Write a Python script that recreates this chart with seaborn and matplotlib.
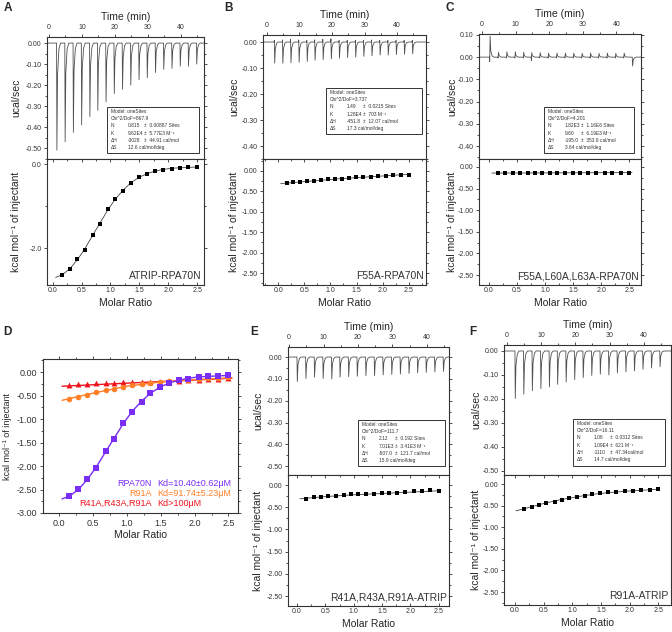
import numpy as np
import seaborn as sns
import matplotlib.pyplot as plt
from matplotlib.patches import Rectangle
from matplotlib.ticker import AutoMinorLocator, FormatStrFormatter, MultipleLocator

sns.set_style("ticks")
plt.rcParams['font.family'] = ['Liberation Sans', 'DejaVu Sans']
plt.rcParams['axes.unicode_minus'] = False

W, H = 672, 632

# injection times (min), shared by all titrations
inj_time = [2.3, 4.8, 7.3, 9.8, 12.3, 14.7, 17.2, 19.7, 22.2, 24.7, 27.2, 29.7,
            32.2, 34.7, 37.2, 39.7, 42.2, 44.7]
# molar ratio of each injection
ratio = [0.16, 0.29, 0.42, 0.55, 0.69, 0.82, 0.95, 1.08, 1.22, 1.35, 1.49, 1.63,
         1.77, 1.91, 2.06, 2.20, 2.35, 2.50]

# raw peaks (ucal/sec)
a_peak = [-0.51, -0.47, -0.425, -0.39, -0.35, -0.32, -0.28, -0.24, -0.22, -0.20,
          -0.175, -0.165, -0.14, -0.125, -0.12, -0.11, -0.11, -0.10]
b_peak = [-0.081, -0.082, -0.080, -0.078, -0.075, -0.070, -0.068, -0.065, -0.062,
          -0.060, -0.058, -0.055, -0.053, -0.050, -0.050, -0.048, -0.047, -0.045]
b_pre = [0.006, 0.008, 0.010, 0.008, 0.006, 0.008, 0.010, 0.012, 0.006, 0.006,
         0.006, 0.006, 0.008, 0.006, 0.006, 0.006, 0.006, 0.006]
c_peak = [0.094, 0.022, 0.024, 0.024, 0.022, 0.020, 0.020, 0.018, 0.018, 0.018,
          0.018, 0.017, 0.018, 0.017, 0.018, 0.017, 0.018, -0.040]
c_pre = [-0.020, -0.004, -0.004, -0.004, -0.004, -0.015, -0.004, -0.004, -0.004,
         -0.004, -0.004, -0.004, -0.004, -0.004, -0.004, -0.004, -0.004, 0.0]
e_peak = [-0.112, -0.098, -0.092, -0.098, -0.100, -0.092, -0.090, -0.088, -0.085,
          -0.085, -0.082, -0.080, -0.078, -0.075, -0.072, -0.070, -0.068, -0.066]
f_peak = [-0.198, -0.180, -0.166, -0.157, -0.150, -0.139, -0.129, -0.119, -0.111,
          -0.102, -0.097, -0.100, -0.091, -0.087, -0.083, -0.076, -0.071, -0.066]

# integrated heats (kcal/mol of injectant)
a_heat = [-2.64, -2.49, -2.27, -2.04, -1.68, -1.42, -1.08, -0.84, -0.63, -0.45,
          -0.31, -0.24, -0.17, -0.14, -0.11, -0.09, -0.08, -0.07]
b_heat = [-0.30, -0.28, -0.27, -0.25, -0.24, -0.22, -0.21, -0.20, -0.19, -0.18,
          -0.16, -0.15, -0.14, -0.13, -0.12, -0.11, -0.10, -0.09]
c_heat = [-0.14, -0.14, -0.14, -0.14, -0.14, -0.14, -0.14, -0.14, -0.14, -0.13,
          -0.13, -0.13, -0.13, -0.13, -0.13, -0.13, -0.13, -0.13]
e_heat = [-0.31, -0.27, -0.26, -0.24, -0.24, -0.23, -0.21, -0.20, -0.20, -0.20,
          -0.19, -0.18, -0.17, -0.15, -0.14, -0.13, -0.12, -0.13]
f_heat = [-0.57, -0.52, -0.49, -0.44, -0.41, -0.36, -0.33, -0.30, -0.27, -0.24,
          -0.21, -0.19, -0.18, -0.17, -0.15, -0.14, -0.13, -0.12]
d_r91a = [-0.57, -0.52, -0.48, -0.43, -0.39, -0.35, -0.32, -0.28, -0.25, -0.23,
          -0.21, -0.18, -0.16, -0.16, -0.14, -0.13, -0.12, -0.11]
d_triple = [-0.28, -0.26, -0.25, -0.24, -0.23, -0.23, -0.22, -0.21, -0.21, -0.20,
            -0.20, -0.19, -0.18, -0.17, -0.16, -0.15, -0.14, -0.13]

# fitted curves
a_fit_x = [0.05, 0.16, 0.29, 0.42, 0.55, 0.69, 0.82, 0.95, 1.08, 1.22, 1.35, 1.49,
           1.63, 1.77, 1.91, 2.06, 2.20, 2.35, 2.50]
a_fit_y = [-2.70, -2.64, -2.50, -2.29, -2.03, -1.70, -1.40, -1.10, -0.84, -0.62,
           -0.45, -0.32, -0.23, -0.17, -0.13, -0.10, -0.09, -0.08, -0.07]
b_fit_x = [0.05, 1.2, 2.5]
b_fit_y = [-0.31, -0.19, -0.085]
c_fit_x = [0.05, 2.55]
c_fit_y = [-0.14, -0.13]
e_fit_x = [0.05, 0.5, 1.0, 1.5, 2.0, 2.5]
e_fit_y = [-0.31, -0.26, -0.22, -0.19, -0.16, -0.13]
f_fit_x = [0.02, 0.16, 0.5, 0.8, 1.1, 1.4, 1.7, 2.0, 2.5]
f_fit_y = [-0.62, -0.57, -0.45, -0.36, -0.29, -0.23, -0.19, -0.16, -0.12]
r91a_fit_x = [0.05, 0.5, 1.0, 1.5, 2.0, 2.55]
r91a_fit_y = [-0.60, -0.45, -0.30, -0.21, -0.16, -0.12]
triple_fit_x = [0.05, 2.55]
triple_fit_y = [-0.30, -0.13]

a_box = [("Model: oneSites", "", ""), ("Chi^2/DoF=867.9", "", ""),
         ("N", "0.815", "±  0.00887 Sites"), ("K", "9.62E4", "±  5.77E3 M⁻¹"),
         ("ΔH", "-3028", "±  44.91 cal/mol"), ("ΔS", "12.6 cal/mol/deg", "")]
b_box = [("Model: oneSites", "", ""), ("Chi^2/DoF=3.737", "", ""),
         ("N", "1.49", "±  0.0215 Sites"), ("K", "1.28E4", "±  703 M⁻¹"),
         ("ΔH", "-451.8", "±  12.07 cal/mol"), ("ΔS", "17.3 cal/mol/deg", "")]
c_box = [("Model: oneSites", "", ""), ("Chi^2/DoF=4.201", "", ""),
         ("N", "1.82E3", "±  1.16E6 Sites"), ("K", "9.60", "±  6.19E3 M⁻¹"),
         ("ΔH", "-195.0", "±  353.9 cal/mol"), ("ΔS", "3.64 cal/mol/deg", "")]
e_box = [("Model: oneSites", "", ""), ("Chi^2/DoF=111.7", "", ""),
         ("N", "2.12", "±  0.192 Sites"), ("K", "7.01E3", "±  3.41E3 M⁻¹"),
         ("ΔH", "-507.0", "±  121.7 cal/mol"), ("ΔS", "15.9 cal/mol/deg", "")]
f_box = [("Model: oneSites", "", ""), ("Chi^2/DoF=16.11", "", ""),
         ("N", "1.08", "±  0.0312 Sites"), ("K", "1.09E4", "±  621 M⁻¹"),
         ("ΔH", "-1110", "±  47.34cal/mol"), ("ΔS", "14.7 cal/mol/deg", "")]

KCAL = 'kcal mol⁻¹ of injectant'

fig = plt.figure(figsize=(W / 100, H / 100), dpi=100)
INK = '#333333'


def px_axes(x0, y0, x1, y1):
    return fig.add_axes([x0 / W, 1 - y1 / H, (x1 - x0) / W, (y1 - y0) / H])


def style(ax, size=5):
    for sp in ax.spines.values():
        sp.set_color(INK)
        sp.set_linewidth(0.8)
    ax.tick_params(which='both', labelsize=size, colors=INK, width=0.6, pad=1.5)
    ax.tick_params(which='major', length=2.5)
    ax.tick_params(which='minor', length=1.5)


def raw_trace(peaks, pre=None):
    xs, ys = [-2.0], [0.0]
    for i, (t, p) in enumerate(zip(inj_time, peaks)):
        if pre is not None:
            xs += [t - 0.08, t - 0.02]
            ys += [0.0, pre[i]]
        xs += [t, t + 0.1, t + 0.3, t + 0.7, t + 1.2]
        ys += [0.0, p, p * 0.3, p * 0.06, 0.0]
    xs.append(50.0)
    ys.append(0.0)
    return xs, ys


def info_box(x0, y0, x1, y1, rows):
    fig.add_artist(Rectangle((x0 / W, 1 - y1 / H), (x1 - x0) / W, (y1 - y0) / H,
                             transform=fig.transFigure, fill=True, facecolor='white',
                             edgecolor=INK, lw=0.7, zorder=5))
    for k, (c1, c2, c3) in enumerate(rows):
        yy = 1 - (y0 + 4.5 + 7.2 * k) / H
        for dx, s in ((4, c1), (21, c2), (37, c3)):
            if s:
                fig.text((x0 + dx) / W, yy, s, fontsize=3.5, color=INK,
                         va='center', ha='left', zorder=6)


def itc_panel(top, peaks, pre, heat, fit_x, fit_y, tlim, rlim, ylim_top,
              ylim_bot, label, box, box_rect, ylab_x, bot_fmt='%.2f', bot_step=0.5):
    x0, y0, ymid, x1, y1 = top
    axt = px_axes(x0, y0, x1, ymid)
    axb = px_axes(x0, ymid, x1, y1)

    tx, ty = raw_trace(peaks, pre)
    sns.lineplot(x=tx, y=ty, ax=axt, estimator=None, sort=False,
                 color='#505050', lw=0.6)
    axt.set_xlim(*tlim)
    axt.set_ylim(*ylim_top)
    axt.xaxis.tick_top()
    axt.xaxis.set_label_position('top')
    axt.set_xlabel('Time (min)', fontsize=7.5, labelpad=3)
    axt.set_ylabel('ucal/sec', fontsize=7.5)
    axt.xaxis.set_major_locator(MultipleLocator(10))
    axt.xaxis.set_minor_locator(AutoMinorLocator(2))
    axt.yaxis.set_major_locator(MultipleLocator(0.1))
    axt.yaxis.set_minor_locator(AutoMinorLocator(2))
    axt.yaxis.set_major_formatter(FormatStrFormatter('%.2f'))
    axt.tick_params(axis='y', which='both', right=True)
    style(axt)

    sns.lineplot(x=fit_x, y=fit_y, ax=axb, estimator=None, sort=False,
                 color='#444444', lw=0.6)
    sns.scatterplot(x=ratio, y=heat, ax=axb, marker='s', s=11, color='black',
                    linewidth=0, zorder=3)
    axb.set_xlim(*rlim)
    axb.set_ylim(*ylim_bot)
    axb.set_xlabel('Molar Ratio', fontsize=7.5, labelpad=3)
    axb.set_ylabel(KCAL, fontsize=7.5)
    axb.xaxis.set_major_locator(MultipleLocator(0.5))
    axb.xaxis.set_minor_locator(AutoMinorLocator(2))
    axb.yaxis.set_major_locator(MultipleLocator(bot_step))
    axb.yaxis.set_minor_locator(AutoMinorLocator(2))
    axb.yaxis.set_major_formatter(FormatStrFormatter(bot_fmt))
    axb.xaxis.set_major_formatter(FormatStrFormatter('%.1f'))
    axb.tick_params(axis='x', which='both', top=True, direction='in')
    axb.tick_params(axis='y', which='both', right=True)
    style(axb)
    axb.text(0.985, 0.03, label, transform=axb.transAxes, ha='right', va='bottom',
             fontsize=7.5, color=INK)

    # ylab_x is the right edge of the rotated label, in pixels
    for ax, yc in ((axt, (y0 + ymid) / 2), (axb, (ymid + y1) / 2)):
        ax.yaxis.set_label_coords(ylab_x / W, 1 - yc / H,
                                  transform=fig.transFigure)
    info_box(*box_rect, box)


# ---- A, B, C ----
itc_panel((47, 37, 159, 204, 285), a_peak, None, a_heat, a_fit_x, a_fit_y,
          (-0.6, 47), (-0.1, 2.62), (-0.552, 0.029), (-2.88, 0.12),
          'ATRIP-RPA70N', a_box, (107, 107, 199, 153), 21, '%.1f', 2.0)
itc_panel((263, 35, 159, 426, 285), b_peak, b_pre, b_heat, b_fit_x, b_fit_y,
          (-1.2, 48.9), (-0.29, 2.83), (-0.45, 0.027), (-2.79, 0.29),
          'F55A-RPA70N', b_box, (326, 88, 422, 134), 239)
itc_panel((479, 34, 159, 641, 285), c_peak, c_pre, c_heat, c_fit_x, c_fit_y,
          (-0.9, 47.3), (-0.18, 2.71), (-0.458, 0.104), (-2.73, 0.185),
          'F55A,L60A,L63A-RPA70N', c_box, (544, 107, 634, 153), 457)

# ---- E, F ----
itc_panel((288, 347, 475, 449, 606), e_peak, None, e_heat, e_fit_x, e_fit_y,
          (-0.3, 46.4), (-0.16, 2.68), (-0.54, 0.046), (-2.72, 0.225),
          'R41A,R43A,R91A-ATRIP', e_box, (358, 420, 445, 466), 263)
itc_panel((504, 345, 475, 671, 605), f_peak, None, f_heat, f_fit_x, f_fit_y,
          (-0.9, 48), (-0.19, 2.72), (-0.517, 0.025), (-2.8, 0.21),
          'R91A-ATRIP', f_box, (573, 419, 665, 466), 481)

# ---- D ----
PURPLE, ORANGE, RED = '#7A2EF5', '#FF7F27', '#F0141E'
axd = px_axes(43, 359, 238, 513)
sns.lineplot(x=triple_fit_x, y=triple_fit_y, ax=axd, estimator=None, sort=False,
             color=RED, lw=1.0)
sns.lineplot(x=r91a_fit_x, y=r91a_fit_y, ax=axd, estimator=None, sort=False,
             color=ORANGE, lw=1.0)
sns.lineplot(x=a_fit_x, y=a_fit_y, ax=axd, estimator=None, sort=False,
             color=PURPLE, lw=1.0)
sns.scatterplot(x=ratio, y=d_triple, ax=axd, marker='^', s=18, color=RED,
                linewidth=0, zorder=3)
sns.scatterplot(x=ratio, y=d_r91a, ax=axd, marker='o', s=16, color=ORANGE,
                linewidth=0, zorder=4)
sns.scatterplot(x=ratio, y=a_heat, ax=axd, marker='s', s=16, color=PURPLE,
                linewidth=0, zorder=5)
axd.set_xlim(-0.23, 2.64)
axd.set_ylim(-3.0, 0.28)
axd.xaxis.set_major_locator(MultipleLocator(0.5))
axd.xaxis.set_minor_locator(AutoMinorLocator(2))
axd.yaxis.set_major_locator(MultipleLocator(0.5))
axd.yaxis.set_minor_locator(AutoMinorLocator(2))
axd.yaxis.set_major_formatter(FormatStrFormatter('%.2f'))
axd.xaxis.set_major_formatter(FormatStrFormatter('%.1f'))
axd.tick_params(axis='both', which='both', top=True, right=True)
style(axd, 6.5)
axd.set_xlabel('Molar Ratio', fontsize=7.5, labelpad=2)
axd.set_ylabel(KCAL, fontsize=6.5)
axd.yaxis.set_label_coords(12 / W, 1 - 436 / H, transform=fig.transFigure)
for name, kd, col, yy in (('RPA70N', 'Kd=10.40±0.62μM', PURPLE, 484),
                          ('R91A', 'Kd=91.74±5.23μM', ORANGE, 494),
                          ('R41A,R43A,R91A', 'Kd>100μM', RED, 503)):
    fig.text(152 / W, 1 - yy / H, name, color=col, fontsize=6.5, ha='right', va='center')
    fig.text(157 / W, 1 - yy / H, kd, color=col, fontsize=6.5, ha='left', va='center')

# panel letters
for letter, x, y in (('A', 4, 8), ('B', 224, 8), ('C', 446, 8),
                     ('D', 3, 332), ('E', 250, 332), ('F', 469, 332)):
    fig.text(x / W, 1 - y / H, letter, fontsize=8.5, fontweight='bold',
             ha='left', va='center')

fig.savefig('out.png', dpi=100)
